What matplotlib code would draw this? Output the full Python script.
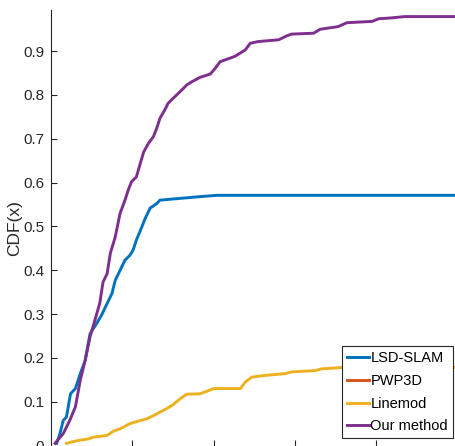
import numpy as np
import matplotlib
matplotlib.use('Agg')
import matplotlib.pyplot as plt

plt.rcParams['font.family'] = ['Liberation Sans', 'DejaVu Sans']

# curves (x in tick units, y = CDF)
ours_x = [0.05, 0.15, 0.23, 0.30, 0.36, 0.42, 0.48, 0.54, 0.60, 0.64, 0.69, 0.73, 0.79,
          0.85, 0.91, 0.95, 0.99, 1.05, 1.10, 1.14, 1.20, 1.26, 1.30, 1.34, 1.40, 1.44,
          1.50, 1.59, 1.67, 1.73, 1.83, 1.96, 2.02, 2.08, 2.20, 2.26, 2.39, 2.45, 2.55,
          2.80, 2.90, 2.96, 3.23, 3.31, 3.53, 3.64, 3.95, 4.03, 4.19, 4.35, 5.0]
ours_y = [0.005, 0.027, 0.057, 0.088, 0.149, 0.194, 0.248, 0.286, 0.325, 0.373, 0.392,
          0.439, 0.476, 0.530, 0.560, 0.583, 0.602, 0.613, 0.645, 0.670, 0.690, 0.705,
          0.724, 0.747, 0.766, 0.781, 0.792, 0.808, 0.823, 0.830, 0.840, 0.848, 0.861,
          0.876, 0.884, 0.888, 0.903, 0.918, 0.922, 0.926, 0.935, 0.939, 0.941, 0.950,
          0.956, 0.965, 0.968, 0.974, 0.976, 0.979, 0.979]

lsd_x = [0.07, 0.11, 0.15, 0.19, 0.24, 0.30, 0.36, 0.42, 0.48, 0.56, 0.62, 0.69, 0.75,
         0.79, 0.85, 0.91, 0.97, 1.01, 1.05, 1.10, 1.16, 1.22, 1.30, 1.34, 1.46, 1.65,
         1.83, 2.04, 5.0]
lsd_y = [0.005, 0.027, 0.057, 0.065, 0.118, 0.130, 0.164, 0.194, 0.255, 0.278, 0.297,
         0.324, 0.347, 0.377, 0.400, 0.423, 0.434, 0.446, 0.469, 0.491, 0.519, 0.542,
         0.552, 0.560, 0.562, 0.565, 0.568, 0.571, 0.571]

# PWP3D has no visible curve in the picture
pwp_x = []
pwp_y = []

line_x = [0.19, 0.32, 0.46, 0.52, 0.69, 0.77, 0.85, 0.97, 1.10, 1.18, 1.30, 1.42, 1.50,
          1.59, 1.67, 1.83, 1.92, 2.00, 2.33, 2.39, 2.47, 2.63, 2.88, 2.96, 3.25, 3.33,
          3.58, 4.0, 5.0]
line_y = [0.005, 0.011, 0.015, 0.019, 0.023, 0.033, 0.038, 0.050, 0.057, 0.061, 0.072,
          0.084, 0.093, 0.107, 0.117, 0.118, 0.124, 0.130, 0.130, 0.145, 0.156, 0.160,
          0.164, 0.168, 0.171, 0.175, 0.178, 0.178, 0.178]

fig = plt.figure(figsize=(4.55, 4.46), dpi=100)
W, H = 455.0, 446.0
ax = fig.add_axes([51 / W, 0.5 / H, 406.5 / W, 435.5 / H])

ax.plot(lsd_x, lsd_y, color='#0072BD', lw=2.1, label='LSD-SLAM')
ax.plot(pwp_x, pwp_y, color='#D95319', lw=2.1, label='PWP3D')
ax.plot(line_x, line_y, color='#EDB120', lw=2.1, label='Linemod')
ax.plot(ours_x, ours_y, color='#7E2F8E', lw=2.1, label='Our method')

ax.set_xlim(0, 5)
ax.set_ylim(0, 0.994)
ax.set_xticks([1, 2, 3, 4])
ax.set_xticklabels([])
yt = [0, 0.1, 0.2, 0.3, 0.4, 0.5, 0.6, 0.7, 0.8, 0.9]
ax.set_yticks(yt)
ax.set_yticklabels(['0', '0.1', '0.2', '0.3', '0.4', '0.5', '0.6', '0.7', '0.8', '0.9'])
ax.tick_params(direction='in', length=4, width=0.8, colors='#262626', labelsize=11, pad=5)
for s in ['top', 'right', 'bottom']:
    ax.spines[s].set_visible(False)
ax.spines['left'].set_color('#262626')
ax.spines['left'].set_linewidth(0.8)

ax.set_ylabel('CDF(x)', fontsize=12.5, color='#262626')
ax.yaxis.set_label_coords((22 - 51) / 406.5, (445.5 - 228) / 435.5)

leg = ax.legend(loc='upper right', bbox_to_anchor=(453 / W, 1 - 346 / H),
                bbox_transform=fig.transFigure, fontsize=10.5, frameon=True,
                fancybox=False, framealpha=1, edgecolor='#262626', borderaxespad=0,
                handlelength=1.5, handletextpad=0.1, labelspacing=0.6, borderpad=0.35)
leg.get_frame().set_linewidth(0.8)

fig.savefig('out.png', dpi=100)
